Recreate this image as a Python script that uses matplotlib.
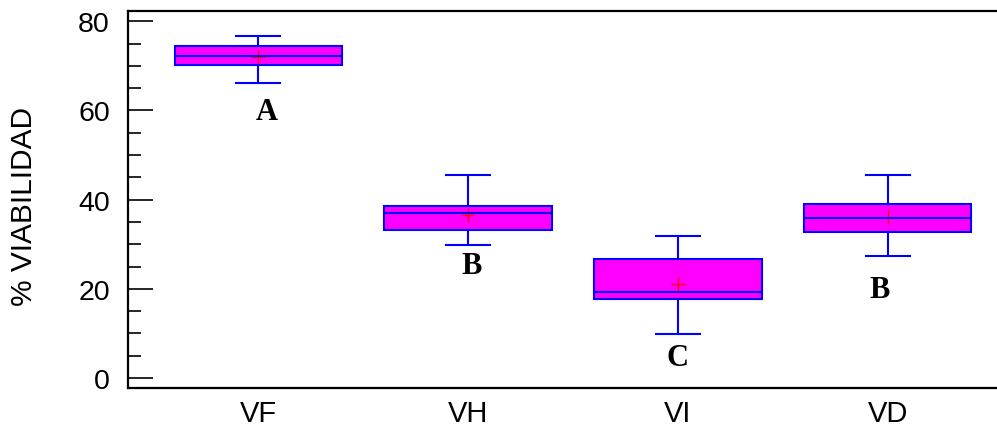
import matplotlib
matplotlib.use("Agg")
from matplotlib import pyplot as plt
from matplotlib.ticker import MultipleLocator

# group names and box statistics
groups = ["VF", "VH", "VI", "VD"]
q1 = [70.2, 33.3, 17.7, 32.7]
med = [72.3, 37.1, 19.2, 35.9]
q3 = [74.4, 38.6, 26.8, 39.0]
whislo = [66.2, 29.8, 9.8, 27.4]
whishi = [76.6, 45.6, 31.9, 45.6]
means = [72.1, 36.5, 21.0, 36.0]

# significance letters under each box
letters = ["A", "B", "C", "B"]
letter_x = [1.04, 2.015, 3.0, 3.96]
letter_y = [59.7, 25.2, 4.7, 19.8]

plt.rcParams['font.family'] = ['Liberation Sans', 'DejaVu Sans']

fig = plt.figure(figsize=(9.97, 4.27), dpi=100)
ax = fig.add_axes([0.1284, 0.089, 0.8746, 0.8829])

stats = []
for i in range(len(groups)):
    stats.append({
        'label': groups[i],
        'q1': q1[i], 'med': med[i], 'q3': q3[i],
        'whislo': whislo[i], 'whishi': whishi[i],
        'mean': means[i], 'fliers': [],
    })

blue = '#0000ff'
ax.bxp(stats, positions=range(1, len(groups) + 1), widths=0.8,
       patch_artist=True, showmeans=True, capwidths=0.21,
       boxprops=dict(facecolor='#ff00ff', edgecolor=blue, linewidth=1.5),
       medianprops=dict(color=blue, linewidth=1.5, zorder=4),
       whiskerprops=dict(color=blue, linewidth=1.5),
       capprops=dict(color=blue, linewidth=1.5),
       meanprops=dict(marker='+', markeredgecolor='red', markersize=9.5,
                      markeredgewidth=1.0, zorder=3))

for i in range(len(letters)):
    ax.text(letter_x[i], letter_y[i], letters[i], ha='center', va='center',
            fontsize=22, fontweight='bold', family='Liberation Serif')

ax.set_xlim(0.378, 4.536)
ax.set_ylim(-2.24, 82.31)
ax.set_yticks([0, 20, 40, 60, 80])
ax.yaxis.set_minor_locator(MultipleLocator(5))
ax.tick_params(axis='y', which='major', direction='in', length=18, width=1.2,
               labelsize=20.5, pad=13)
ax.tick_params(axis='y', which='minor', direction='in', length=9, width=1.2)
ax.tick_params(axis='x', length=0, labelsize=21, pad=8)
ax.set_xticklabels(groups)

ax.spines['right'].set_visible(False)
for s in ['left', 'top', 'bottom']:
    ax.spines[s].set_linewidth(1.6)

ax.set_ylabel('% VIABILIDAD', fontsize=21.5)
ax.yaxis.set_label_coords(-0.1036, 0.485)

fig.savefig('out.png', dpi=100)
